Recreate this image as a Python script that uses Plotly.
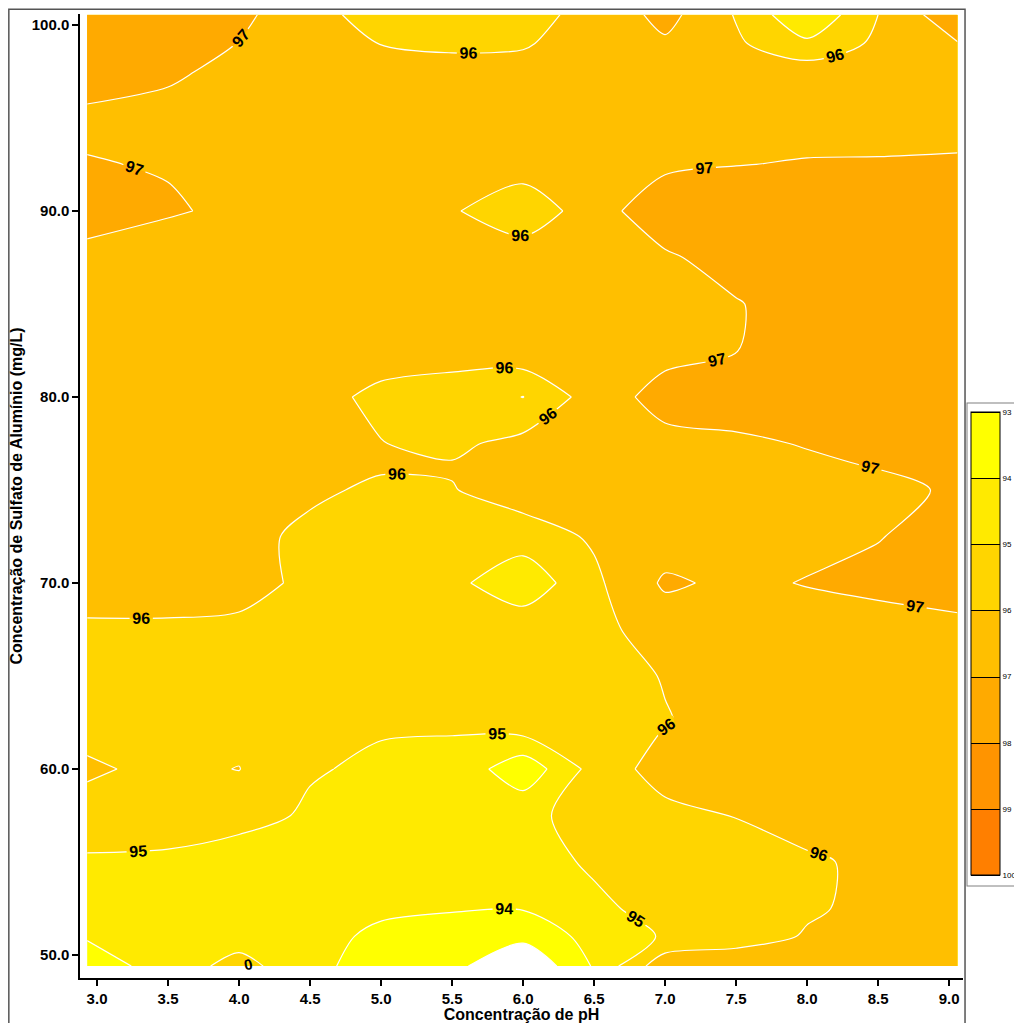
import plotly.graph_objects as go

# ---------------- data ----------------
ph = [2.93, 3.5, 4.0, 4.5, 5.0, 5.5, 6.0, 6.5, 7.0, 7.5, 8.0, 8.5, 9.06]
sulfato = [49.4, 51.0, 52.5, 55.0, 57.5, 60.0, 62.5, 65.0, 67.5, 70.0, 72.5, 75.0,
           76.25, 77.5, 80.0, 82.5, 85.0, 87.5, 90.0, 92.5, 95.0, 97.5, 99.0, 100.55]

# one row per sulfato value (bottom -> top), one column per pH value
remocao = [
    [93.70, 94.25, 95.50, 94.03, 93.95, 93.30, 92.00, 94.10, 96.70, 96.60, 96.50, 96.45, 96.50],
    [94.05, 94.20, 94.40, 94.20, 93.88, 93.70, 93.30, 94.34, 95.10, 95.60, 96.07, 96.25, 96.35],
    [94.40, 94.35, 94.30, 94.20, 94.10, 94.05, 94.05, 94.70, 95.50, 95.75, 95.90, 96.20, 96.30],
    [94.82, 94.77, 94.35, 94.30, 94.25, 94.20, 94.40, 95.20, 95.60, 95.80, 95.90, 96.15, 96.30],
    [95.74, 95.60, 95.45, 94.83, 94.60, 94.50, 94.80, 95.30, 95.70, 96.02, 96.30, 96.45, 96.50],
    [96.10, 95.83, 96.02, 95.10, 94.80, 94.75, 93.30, 95.37, 96.46, 96.50, 96.50, 96.55, 96.60],
    [95.75, 95.70, 95.70, 95.55, 95.13, 95.10, 95.70, 95.50, 95.95, 96.35, 96.50, 96.50, 96.55],
    [95.70, 95.65, 95.60, 95.50, 95.45, 95.35, 95.30, 95.60, 96.05, 96.40, 96.50, 96.50, 96.55],
    [95.90, 95.90, 95.85, 95.70, 95.55, 95.40, 95.70, 95.75, 96.40, 96.45, 96.50, 96.50, 96.72],
    [96.30, 96.30, 96.25, 95.85, 95.60, 95.25, 94.30, 95.80, 97.15, 96.80, 97.05, 97.30, 97.50],
    [96.45, 96.40, 96.28, 95.80, 95.60, 95.50, 95.50, 96.13, 96.45, 96.60, 96.70, 96.95, 97.50],
    [96.45, 96.45, 96.40, 96.15, 95.85, 95.95, 96.50, 96.60, 96.60, 96.60, 96.65, 96.75, 97.13],
    [96.50, 96.45, 96.45, 96.30, 96.08, 96.08, 96.40, 96.55, 96.65, 96.75, 96.85, 97.03, 97.35],
    [96.50, 96.50, 96.45, 96.30, 96.02, 95.80, 96.30, 96.50, 96.70, 96.85, 97.05, 97.30, 97.50],
    [96.50, 96.50, 96.45, 96.25, 95.83, 95.60, 94.98, 96.48, 97.38, 97.45, 97.55, 97.60, 97.70],
    [96.50, 96.50, 96.45, 96.40, 96.33, 96.35, 96.70, 96.40, 96.70, 96.98, 97.45, 97.60, 97.70],
    [96.50, 96.50, 96.50, 96.45, 96.40, 96.30, 96.35, 96.50, 96.65, 96.93, 97.50, 97.60, 97.65],
    [96.60, 96.55, 96.55, 96.50, 96.45, 96.35, 96.60, 96.60, 96.85, 97.45, 97.60, 97.60, 97.60],
    [97.60, 97.08, 96.85, 96.60, 96.40, 96.10, 95.30, 96.55, 97.70, 97.60, 97.50, 97.50, 97.50],
    [97.04, 96.95, 96.70, 96.60, 96.50, 96.40, 96.50, 96.50, 96.80, 96.98, 97.05, 97.05, 97.05],
    [96.85, 96.70, 96.60, 96.50, 96.45, 96.40, 96.40, 96.50, 96.65, 96.65, 96.70, 96.75, 96.85],
    [97.35, 97.15, 96.75, 96.55, 96.35, 96.30, 96.35, 96.55, 96.70, 96.55, 96.53, 96.55, 96.80],
    [97.60, 97.35, 96.98, 96.50, 95.98, 95.85, 95.90, 96.50, 96.85, 96.15, 95.20, 96.20, 96.95],
    [97.90, 97.60, 97.26, 96.25, 95.70, 95.70, 95.75, 96.23, 97.33, 95.93, 94.10, 96.00, 97.75],
]

niveis = [93, 94, 95, 96, 97, 98, 99, 100]
cores_faixas = ["#FFFF00", "#FFEA00", "#FFD500", "#FFBF00", "#FFAA00", "#FF9400", "#FF7F00"]
x_ticks = [3.0, 3.5, 4.0, 4.5, 5.0, 5.5, 6.0, 6.5, 7.0, 7.5, 8.0, 8.5, 9.0]
y_ticks = [50, 60, 70, 80, 90, 100]

FONT = "Liberation Sans"

# colorscale for the main contour: below 93 -> white, then one colour per band
n = len(niveis)  # 8 levels -> domain 92.5 .. 100.5
escala = [[0.0, "#FFFFFF"]]
for k, c in enumerate(cores_faixas):
    escala.append([(k + 1) / n, c])
escala.append([1.0, cores_faixas[-1]])

# stepped reversed colorscale for the legend bar (93 at top, 100 at bottom)
nb = len(cores_faixas)
escala_barra = []
for k, c in enumerate(reversed(cores_faixas)):
    escala_barra.append([k / nb, c])
    escala_barra.append([(k + 1) / nb, c])

fig = go.Figure()

# the surface is drawn as adjoining horizontal strips of the same grid (sharing
# their boundary rows) so that the library places labels along every part of
# the longer contour lines
faixas_linhas = [(0, 5), (5, 9), (9, 14), (14, 18), (18, len(sulfato) - 1)]
for a, b in faixas_linhas:
    fig.add_trace(go.Contour(
        x=ph, y=sulfato[a:b + 1], z=remocao[a:b + 1],
        autocontour=False,
        contours=dict(start=niveis[0], end=niveis[-1], size=1, coloring="fill",
                      showlines=True, showlabels=True, labelformat=".0f",
                      labelfont=dict(family=FONT, size=16, color="black", weight="bold")),
        line=dict(color="white", width=1.2, smoothing=0.85),
        colorscale=escala,
        showscale=False,
        hoverinfo="skip",
    ))

# legend colour bar (dummy trace placed outside the visible range)
fig.add_trace(go.Contour(
    x=[20, 21], y=[0, 1], z=[[niveis[0], niveis[-1]], [niveis[0], niveis[-1]]],
    autocontour=False, zmin=niveis[0], zmax=niveis[-1],
    contours=dict(start=niveis[0], end=niveis[-1], size=1, coloring="fill", showlines=True),
    line=dict(color="black", width=1),
    colorscale=escala_barra,
    showscale=True,
    hoverinfo="skip",
    colorbar=dict(
        x=1.0057, xanchor="left", xpad=3,
        y=0.347, yanchor="middle", ypad=9,
        thickness=29, thicknessmode="pixels",
        len=481, lenmode="pixels",
        tickvals=niveis, ticktext=[str(193 - v) for v in niveis],
        ticks="", tickfont=dict(family=FONT, size=8, color="black"),
        outlinewidth=1, outlinecolor="black",
        borderwidth=1, bordercolor="#808080", bgcolor="white",
    ),
))

fig.add_annotation(x=4.06, y=49.5, xref="x", yref="y", text="0", showarrow=False,
                   textangle=-12, font=dict(family=FONT, size=15, color="black", weight="bold"))

# outer frame of the original graphic
fig.add_shape(type="rect", xref="paper", yref="paper",
              x0=-0.0806, x1=1.0023, y0=-0.06, y1=1.005,
              line=dict(color="#555555", width=1.5), layer="below")

# the page adds an 8px offset, so the figure is 8px smaller than the window
fig.update_layout(
    width=1014, height=1015,
    margin=dict(l=72, r=59, t=6, b=45, pad=0, autoexpand=False),
    paper_bgcolor="white", plot_bgcolor="white",
    showlegend=False,
    font=dict(family=FONT, color="black"),
    xaxis=dict(range=[2.880, 9.098], tickvals=x_ticks, tickformat=".1f", automargin=False,
               showline=True, linecolor="black", linewidth=1.5,
               ticks="outside", ticklen=6, tickwidth=1.5, tickcolor="black",
               showgrid=False, zeroline=False,
               tickfont=dict(family=FONT, size=15, weight="bold", color="black"),
               title=dict(text="Concentração de pH", standoff=4,
                          font=dict(family=FONT, size=16, weight="bold", color="black"))),
    yaxis=dict(range=[48.76, 100.59], tickvals=y_ticks, tickformat=".1f", automargin=False,
               showline=True, linecolor="black", linewidth=1.5,
               ticks="outside", ticklen=6, tickwidth=1.5, tickcolor="black",
               showgrid=False, zeroline=False,
               tickfont=dict(family=FONT, size=15, weight="bold", color="black"),
               title=dict(text="Concentração de Sulfato de Alumínio (mg/L)", standoff=8,
                          font=dict(family=FONT, size=16, weight="bold", color="black"))),
)

fig.write_html("out.html")
